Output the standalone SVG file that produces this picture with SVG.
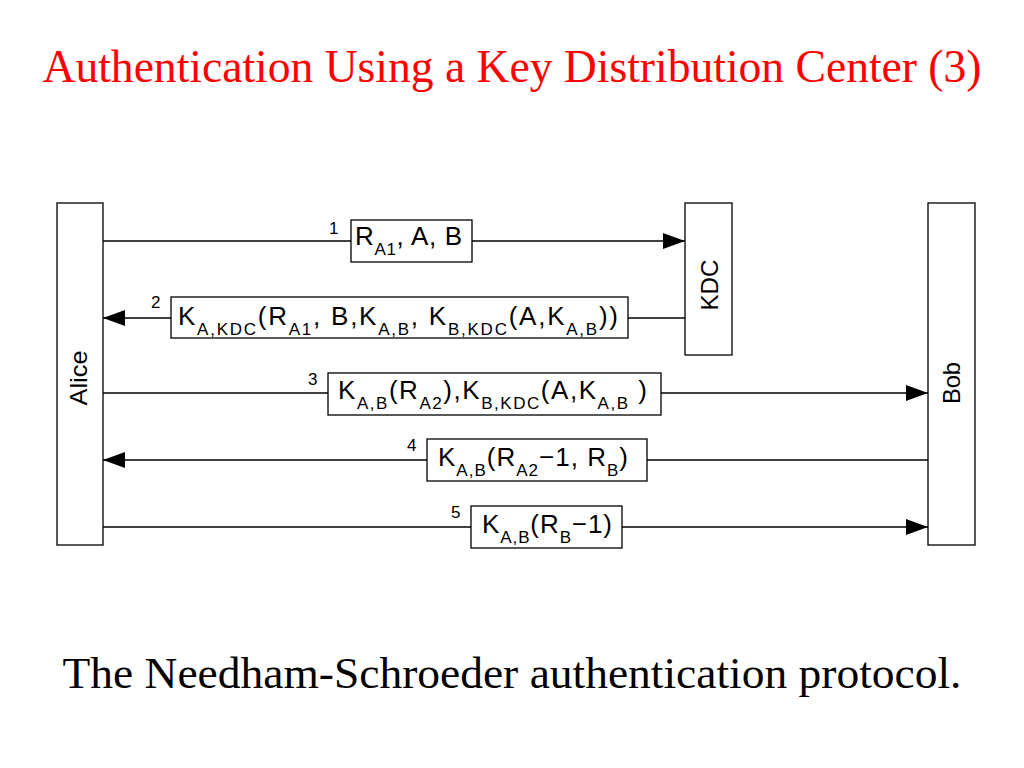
<svg xmlns="http://www.w3.org/2000/svg" width="1024" height="768" viewBox="0 0 1024 768">
<style>
.title{font-family:"Liberation Serif","Times New Roman",serif;font-size:47px;fill:#ff0000}
.cap{font-family:"Liberation Serif","Times New Roman",serif;font-size:44px;fill:#000}
.node{fill:#fff;stroke:#000;stroke-width:1.3}
.lbl{fill:#fff;stroke:#000;stroke-width:1.3}
.t{font-family:"Liberation Sans",Arial,sans-serif;font-size:26px;fill:#000}
.r{font-size:24px}
.s{font-size:17px}
.n{font-family:"Liberation Sans",Arial,sans-serif;font-size:17px;fill:#000}
.ln{stroke:#000;stroke-width:1.3;fill:none}
</style>
<defs>
<marker id="ah" viewBox="0 0 22 16" refX="22" refY="8" markerWidth="22" markerHeight="16" markerUnits="userSpaceOnUse" orient="auto">
<path d="M0,0 L22,8 L0,16 Z" fill="#000"/>
</marker>
</defs>
<rect width="1024" height="768" fill="#fff"/>
<text class="title" x="512" y="82" text-anchor="middle" textLength="939" lengthAdjust="spacingAndGlyphs">Authentication Using a Key Distribution Center (3)</text>

<g id="connectors">
<line class="ln" x1="103" y1="241" x2="685" y2="241" marker-end="url(#ah)"/>
<line class="ln" x1="685" y1="318" x2="103" y2="318" marker-end="url(#ah)"/>
<line class="ln" x1="103" y1="393" x2="928" y2="393" marker-end="url(#ah)"/>
<line class="ln" x1="928" y1="460" x2="103" y2="460" marker-end="url(#ah)"/>
<line class="ln" x1="103" y1="527" x2="928" y2="527" marker-end="url(#ah)"/>
</g>

<g id="alice">
<rect class="node" x="57" y="203" width="46" height="342"/>
<text class="t r" transform="translate(87,378) rotate(-90)" text-anchor="middle" textLength="55" lengthAdjust="spacingAndGlyphs">Alice</text>
</g>
<g id="kdc">
<rect class="node" x="685" y="203" width="47" height="152"/>
<text class="t r" transform="translate(718,285) rotate(-90)" text-anchor="middle" textLength="51" lengthAdjust="spacingAndGlyphs">KDC</text>
</g>
<g id="bob">
<rect class="node" x="928" y="203" width="47" height="342"/>
<text class="t r" transform="translate(960,383) rotate(-90)" text-anchor="middle" textLength="42" lengthAdjust="spacingAndGlyphs">Bob</text>
</g>

<g id="msg1">
<rect class="lbl" x="351" y="220" width="121" height="42"/>
<text class="n" x="329" y="234">1</text>
<text class="t" x="355" y="245" textLength="107" lengthAdjust="spacing">R<tspan class="s" dy="10">A1</tspan><tspan dy="-10">, A, B</tspan></text>
</g>
<g id="msg2">
<rect class="lbl" x="171" y="297" width="457" height="41"/>
<text class="n" x="151" y="308">2</text>
<text class="t" x="178" y="325" textLength="440" lengthAdjust="spacing">K<tspan class="s" dy="10">A,KDC</tspan><tspan dy="-10">(R</tspan><tspan class="s" dy="10">A1</tspan><tspan dy="-10">, B,K</tspan><tspan class="s" dy="10">A,B</tspan><tspan dy="-10">, K</tspan><tspan class="s" dy="10">B,KDC</tspan><tspan dy="-10">(A,K</tspan><tspan class="s" dy="10">A,B</tspan><tspan dy="-10">))</tspan></text>
</g>
<g id="msg3">
<rect class="lbl" x="328" y="373" width="333" height="42"/>
<text class="n" x="308" y="385">3</text>
<text class="t" x="338" y="399" textLength="309" lengthAdjust="spacing">K<tspan class="s" dy="10">A,B</tspan><tspan dy="-10">(R</tspan><tspan class="s" dy="10">A2</tspan><tspan dy="-10">),K</tspan><tspan class="s" dy="10">B,KDC</tspan><tspan dy="-10">(A,K</tspan><tspan class="s" dy="10">A,B</tspan><tspan dy="-10"> )</tspan></text>
</g>
<g id="msg4">
<rect class="lbl" x="427" y="439" width="220" height="42"/>
<text class="n" x="407" y="451">4</text>
<text class="t" x="438" y="466" textLength="190" lengthAdjust="spacing">K<tspan class="s" dy="10">A,B</tspan><tspan dy="-10">(R</tspan><tspan class="s" dy="10">A2</tspan><tspan dy="-10">−1, R</tspan><tspan class="s" dy="10">B</tspan><tspan dy="-10">)</tspan></text>
</g>
<g id="msg5">
<rect class="lbl" x="471" y="506" width="151" height="42"/>
<text class="n" x="451" y="518">5</text>
<text class="t" x="482" y="533" textLength="130" lengthAdjust="spacing">K<tspan class="s" dy="10">A,B</tspan><tspan dy="-10">(R</tspan><tspan class="s" dy="10">B</tspan><tspan dy="-10">−1)</tspan></text>
</g>

<text class="cap" x="512" y="688" text-anchor="middle" textLength="899" lengthAdjust="spacingAndGlyphs">The Needham-Schroeder authentication protocol.</text>
</svg>
